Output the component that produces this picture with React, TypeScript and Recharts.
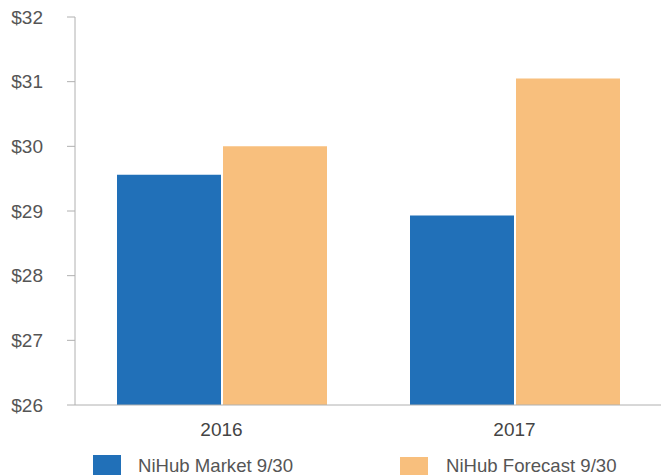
import { BarChart, Bar, XAxis, YAxis } from 'recharts'

const years = ['2016', '2017']
const marketValues = [29.56, 28.93]
const forecastValues = [30.0, 31.05]
const yTicks = [26, 27, 28, 29, 30, 31, 32]
const seriesNames = ['NiHub Market 9/30', 'NiHub Forecast 9/30']

const BLUE = '#2170b8'
const ORANGE = '#f8bf7d'
const FONT = '"Liberation Sans", Arial, sans-serif'

const chartData = years.map((year, i) => ({
  year,
  market: marketValues[i],
  forecast: forecastValues[i],
}))

export default function App(): JSX.Element {
  return (
    <div style={{ position: 'absolute', left: 0, top: 0, width: 661, height: 475, background: '#fff', fontFamily: FONT }}>
      <BarChart
        width={661}
        height={475}
        data={chartData}
        margin={{ top: 17, right: 0, bottom: 40, left: 0 }}
        barCategoryGap={42}
        barGap={2}
      >
        <YAxis
          width={75}
          domain={[26, 32]}
          ticks={yTicks}
          interval={0}
          tickFormatter={(v: number) => `$${v}`}
          axisLine={{ stroke: '#b0b0b0' }}
          tickLine={{ stroke: '#b0b0b0' }}
          tickSize={8}
          tickMargin={24}
          tick={{ fill: '#555', fontSize: 19, fontFamily: FONT }}
        />
        <XAxis
          dataKey="year"
          height={30}
          axisLine={{ stroke: '#b0b0b0' }}
          tickLine={false}
          tickSize={0}
          tickMargin={18}
          tick={{ fill: '#444', fontSize: 19, fontFamily: FONT }}
        />
        <Bar dataKey="market" name={seriesNames[0]} fill={BLUE} isAnimationActive={false} />
        <Bar dataKey="forecast" name={seriesNames[1]} fill={ORANGE} isAnimationActive={false} />
      </BarChart>

      <div style={{ position: 'absolute', left: 93, top: 455, width: 28, height: 28, background: BLUE }} />
      <div style={{ position: 'absolute', left: 138, top: 455, fontSize: 18.6, lineHeight: '22px', color: '#555' }}>
        {seriesNames[0]}
      </div>
      <div style={{ position: 'absolute', left: 400, top: 457, width: 28, height: 28, background: ORANGE }} />
      <div style={{ position: 'absolute', left: 446, top: 455, fontSize: 18.6, lineHeight: '22px', color: '#555' }}>
        {seriesNames[1]}
      </div>
    </div>
  )
}
